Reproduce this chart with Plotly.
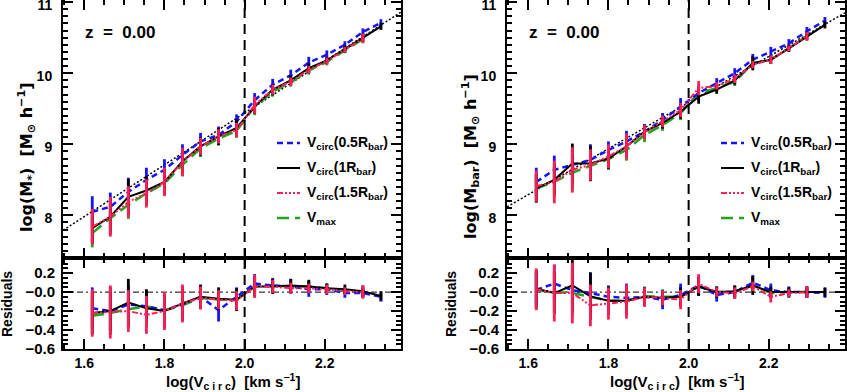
import plotly.graph_objs as go

# bins in log(Vcirc)
log_v = [1.62, 1.665, 1.71, 1.755, 1.80, 1.845, 1.89, 1.935, 1.98,
         2.025, 2.07, 2.115, 2.16, 2.205, 2.25, 2.295, 2.34]

# left panel: log(M*)
star_blue = [8.05, 8.12, 8.33, 8.50, 8.64, 8.85, 9.04, 9.13, 9.32, 9.62, 9.84, 9.97, 10.15, 10.26, 10.40, 10.58, 10.71]
star_black = [7.82, 7.98, 8.26, 8.35, 8.47, 8.76, 8.97, 9.11, 9.23, 9.53, 9.77, 9.90, 10.07, 10.18, 10.34, 10.50, 10.66]
star_red = [7.84, 7.98, 8.19, 8.31, 8.47, 8.75, 8.97, 9.11, 9.20, 9.55, 9.77, 9.88, 10.05, 10.17, 10.33, 10.49, None]
star_green = [7.75, 7.96, 8.15, 8.31, 8.45, 8.71, 8.94, 9.08, 9.19, 9.53, 9.74, 9.87, 10.04, 10.16, 10.32, 10.48, None]

star_err_blue = [0.22, 0.20, 0.20, 0.17, 0.15, 0.15, 0.12, 0.12, 0.10, 0.10, 0.08, 0.08, 0.08, 0.06, 0.05, 0.05, 0.05]
star_err_black = [0.22, 0.25, 0.25, 0.20, 0.18, 0.18, 0.13, 0.12, 0.12, 0.10, 0.08, 0.07, 0.07, 0.05, 0.05, 0.06, 0.05]
star_err_red = [0.25, 0.28, 0.22, 0.20, 0.20, 0.20, 0.12, 0.10, 0.10, 0.12, 0.07, 0.06, 0.05, 0.05, 0.04, 0.07, None]
star_err_green = [0.20, 0.20, 0.20, 0.17, 0.17, 0.16, 0.12, 0.10, 0.10, 0.12, 0.07, 0.06, 0.06, 0.05, 0.04, 0.05, None]

star_res_blue = [-0.17, -0.20, -0.13, -0.15, -0.19, -0.13, -0.05, -0.19, -0.05, 0.09, 0.07, 0.06, 0.03, 0.03, -0.01, -0.01, -0.05]
star_res_black = [-0.22, -0.20, -0.11, -0.17, -0.20, -0.12, -0.05, -0.07, -0.08, 0.06, 0.06, 0.07, 0.06, 0.04, 0.03, 0.01, -0.04]
star_res_red = [-0.22, -0.21, -0.20, -0.24, -0.20, -0.12, -0.06, -0.08, -0.09, 0.06, 0.06, 0.04, 0.04, 0.03, 0.01, 0.00, None]
star_res_green = [-0.25, -0.22, -0.18, -0.15, -0.19, -0.14, -0.06, -0.08, -0.08, 0.06, 0.07, 0.06, 0.06, 0.04, 0.01, 0.00, None]

# right panel: log(Mbar)
bar_blue = [8.47, 8.64, 8.71, 8.78, 8.92, 9.04, 9.18, 9.34, 9.53, 9.72, 9.86, 10.00, 10.19, 10.30, 10.42, 10.59, 10.74]
bar_black = [8.38, 8.50, 8.73, 8.73, 8.80, 8.97, 9.18, 9.30, 9.46, 9.67, 9.77, 9.90, 10.14, 10.19, 10.35, 10.52, 10.68]
bar_red = [8.41, 8.47, 8.64, 8.71, 8.83, 8.97, 9.17, 9.32, 9.48, 9.79, 9.82, 9.92, 10.12, 10.19, 10.35, 10.52, None]
bar_green = [8.38, 8.47, 8.60, 8.69, 8.79, 8.92, 9.13, 9.27, 9.44, 9.72, 9.79, 9.88, 10.14, 10.19, 10.35, 10.52, None]

bar_err_blue = [0.20, 0.20, 0.15, 0.22, 0.12, 0.15, 0.10, 0.10, 0.12, 0.10, 0.07, 0.07, 0.08, 0.07, 0.06, 0.06, 0.05]
bar_err_black = [0.20, 0.22, 0.28, 0.25, 0.15, 0.15, 0.10, 0.08, 0.10, 0.10, 0.06, 0.06, 0.10, 0.06, 0.05, 0.06, 0.05]
bar_err_red = [0.22, 0.30, 0.32, 0.22, 0.17, 0.18, 0.10, 0.08, 0.10, 0.10, 0.05, 0.06, 0.05, 0.06, 0.04, 0.06, None]
bar_err_green = [0.20, 0.22, 0.25, 0.20, 0.15, 0.15, 0.10, 0.08, 0.10, 0.10, 0.06, 0.06, 0.08, 0.05, 0.04, 0.05, None]

bar_res_blue = [0.025, 0.09, 0.02, -0.01, -0.05, -0.06, -0.05, -0.08, -0.03, 0.07, -0.03, 0.00, 0.10, 0.02, 0.00, 0.00, -0.01]
bar_res_black = [0.035, -0.01, 0.07, -0.045, -0.09, -0.09, -0.05, -0.06, -0.05, 0.06, 0.00, 0.01, 0.07, 0.00, 0.00, 0.00, 0.00]
bar_res_red = [0.03, -0.01, -0.01, -0.14, -0.12, -0.10, -0.05, -0.06, -0.08, 0.09, 0.00, -0.01, 0.06, -0.05, -0.01, 0.00, None]
bar_res_green = [0.02, 0.00, -0.01, -0.05, -0.09, -0.09, -0.04, -0.05, -0.05, 0.06, 0.00, 0.00, 0.07, -0.01, 0.00, 0.00, None]

# dotted fit lines (end points at frame edges)
fit_x = [1.547, 2.39]
fit_star = [7.79, 10.86]
fit_bar = [8.12, 10.85]

legend_names = ['V<sub>circ</sub>(0.5R<sub>bar</sub>)', 'V<sub>circ</sub>(1R<sub>bar</sub>)',
                'V<sub>circ</sub>(1.5R<sub>bar</sub>)', 'V<sub>max</sub>']

W, H = 847, 392
FONT = 'Liberation Sans'
TITLE_FONT = 'DejaVu Sans'

BLUE = '#1414ff'
BLACK = '#000000'
RED = '#ff1f55'
GREEN = '#1fa51f'
styles = {  # colour, dash, width
    'blue': (BLUE, '6px,4px', 2.5),
    'black': (BLACK, 'solid', 2),
    'red': (RED, '6px,2px,2px,2px,2px,2px,2px,2px', 2),
    'green': (GREEN, '12px,6px', 2.5),
}
order = ['green', 'blue', 'black', 'red']


def px(xp, yp):
    return xp / W, 1 - yp / H


def ax_id(n):
    # plotly names the first axes 'x' / 'y', the others 'x2', 'y3', ...
    return ('x', 'y') if n == 1 else ('x%d' % n, 'y%d' % n)


def series_traces(yvals, errs, xa, ya):
    traces = []
    for key in order:
        col, dash, wid = styles[key]
        traces.append(go.Scatter(
            x=log_v, y=yvals[key], xaxis=xa, yaxis=ya, mode='lines',
            line=dict(color=col, dash=dash, width=wid),
            error_y=dict(type='data', array=errs[key], width=0, thickness=2.8, color=col),
            showlegend=False, hoverinfo='skip'))
    return traces


panels = [
    dict(main=dict(blue=star_blue, black=star_black, red=star_red, green=star_green),
         err=dict(blue=star_err_blue, black=star_err_black, red=star_err_red, green=star_err_green),
         res=dict(blue=star_res_blue, black=star_res_black, red=star_res_red, green=star_res_green),
         fit=fit_star, x0=63, ytitle='log(M<sub>*</sub>)  [M<sub>⊙</sub> h<sup>−1</sup>]'),
    dict(main=dict(blue=bar_blue, black=bar_black, red=bar_red, green=bar_green),
         err=dict(blue=bar_err_blue, black=bar_err_black, red=bar_err_red, green=bar_err_green),
         res=dict(blue=bar_res_blue, black=bar_res_black, red=bar_res_red, green=bar_res_green),
         fit=fit_bar, x0=507, ytitle='log(M<sub>bar</sub>)  [M<sub>⊙</sub> h<sup>−1</sup>]'),
]

data = []
layout = dict(
    width=W, height=H, margin=dict(l=0, r=0, t=0, b=0),
    paper_bgcolor='white', plot_bgcolor='white',
    font=dict(family=FONT, size=14, color='black', weight='bold'),
    showlegend=False,
)
shapes = []
annotations = []

axis_common = dict(showline=True, linecolor='black', linewidth=2, mirror='allticks',
                   ticks='inside', ticklen=10, tickwidth=2, tickcolor='black',
                   showgrid=False, zeroline=False, automargin=False)
minor_common = dict(ticks='inside', ticklen=5, tickwidth=1.5, tickcolor='black')

for i, p in enumerate(panels):
    n_main = 2 * i + 1
    n_res = 2 * i + 2
    xa_m, ya_m = ax_id(n_main)
    xa_r, ya_r = ax_id(n_res)
    x0 = p['x0']
    x1 = x0 + 338
    dom_x = [x0 / W, x1 / W]

    # fit line and data
    data.append(go.Scatter(x=fit_x, y=p['fit'], xaxis=xa_m, yaxis=ya_m, mode='lines',
                           line=dict(color='black', dash='2px,2px', width=1.5),
                           showlegend=False, hoverinfo='skip'))
    data += series_traces(p['main'], p['err'], xa_m, ya_m)
    data += series_traces(p['res'], p['err'], xa_r, ya_r)

    layout[xa_m.replace('x', 'xaxis')] = dict(axis_common, domain=dom_x, range=[1.547, 2.39],
                                              anchor=ya_m, dtick=0.2, tick0=1.6, showticklabels=False,
                                              minor=dict(minor_common, dtick=0.05))
    layout[ya_m.replace('y', 'yaxis')] = dict(axis_common, domain=[1 - 258 / H, 1], range=[7.4, 11.03],
                                              anchor=xa_m, tickvals=[8, 9, 10, 11], ticklabelstandoff=6,
                                              ticklabeloverflow='allow', ticklabelshift=3,
                                              minor=dict(minor_common, dtick=0.1))
    layout[xa_r.replace('x', 'xaxis')] = dict(axis_common, domain=dom_x, range=[1.547, 2.39],
                                              anchor=ya_r, tickvals=[1.6, 1.8, 2.0, 2.2],
                                              ticktext=['1.6', '1.8', '2.0', '2.2'], ticklabelstandoff=0,
                                              minor=dict(minor_common, dtick=0.05))
    layout[ya_r.replace('y', 'yaxis')] = dict(axis_common, domain=[1 - 349 / H, 1 - 258 / H], range=[-0.6, 0.36],
                                              anchor=xa_r, tickvals=[0.2, 0.0, -0.2, -0.4, -0.6],
                                              ticktext=['0.2', '−0.0', '−0.2', '−0.4', '−0.6'], ticklabelstandoff=3,
                                              tickfont=dict(size=15),
                                              minor=dict(minor_common, dtick=0.05))

    # vertical dashed line at log V = 2 and zero line in residuals
    for xa, ya in ((xa_m, ya_m), (xa_r, ya_r)):
        shapes.append(dict(type='line', xref=xa, yref=ya + ' domain', x0=2.0, x1=2.0, y0=0, y1=1,
                           line=dict(color='black', width=2, dash='10px,6px'), layer='above'))
    shapes.append(dict(type='line', xref=xa_r + ' domain', yref=ya_r, x0=0, x1=1, y0=0, y1=0,
                       line=dict(color='black', width=1, dash='6px,3px,2px,3px'), layer='below'))

    # z label
    zx, zy = px(x0 + 20, 33)
    annotations.append(dict(xref='paper', yref='paper', x=zx, y=zy, xanchor='left', yanchor='middle',
                            text='z\u00a0\u00a0=\u00a0\u00a00.00', showarrow=False, font=dict(size=17)))

    # axis titles
    tx, ty = px(x0 - 37, 157)
    annotations.append(dict(xref='paper', yref='paper', x=tx, y=ty, xanchor='center', yanchor='middle',
                            text=p['ytitle'], textangle=-90, showarrow=False,
                            font=dict(family=TITLE_FONT, size=16)))
    tx, ty = px(x0 - 56, 304)
    annotations.append(dict(xref='paper', yref='paper', x=tx, y=ty, xanchor='center', yanchor='middle',
                            text='Residuals', textangle=-90, showarrow=False, font=dict(size=14)))
    tx, ty = px(x0 + 170, 381)
    annotations.append(dict(xref='paper', yref='paper', x=tx, y=ty, xanchor='center', yanchor='middle',
                            text='log(V<sub>c i r c</sub>)  [km s<sup>−1</sup>]', showarrow=False,
                            font=dict(size=15)))

    # legend drawn by hand
    lx0 = x0 + 214
    for k, (key, name) in enumerate(zip(['blue', 'black', 'red', 'green'], legend_names)):
        col, dash, wid = styles[key]
        row_y = 143 + 25 * k
        a, b = px(lx0, row_y)
        c, _ = px(lx0 + 23, row_y)
        shapes.append(dict(type='line', xref='paper', yref='paper', x0=a, x1=c, y0=b, y1=b,
                           line=dict(color=col, width=wid, dash=dash)))
        tx, _ = px(lx0 + 28, row_y)
        annotations.append(dict(xref='paper', yref='paper', x=tx, y=b, xanchor='left', yanchor='middle',
                                text=name, showarrow=False, font=dict(size=14)))

layout['shapes'] = shapes
layout['annotations'] = annotations

fig = go.Figure(data=data, layout=layout)
# the page's default body margin would push the figure 8px down and right
fig.write_html("out.html", config={'displayModeBar': False},
               post_script="document.body.style.margin = '0';")
